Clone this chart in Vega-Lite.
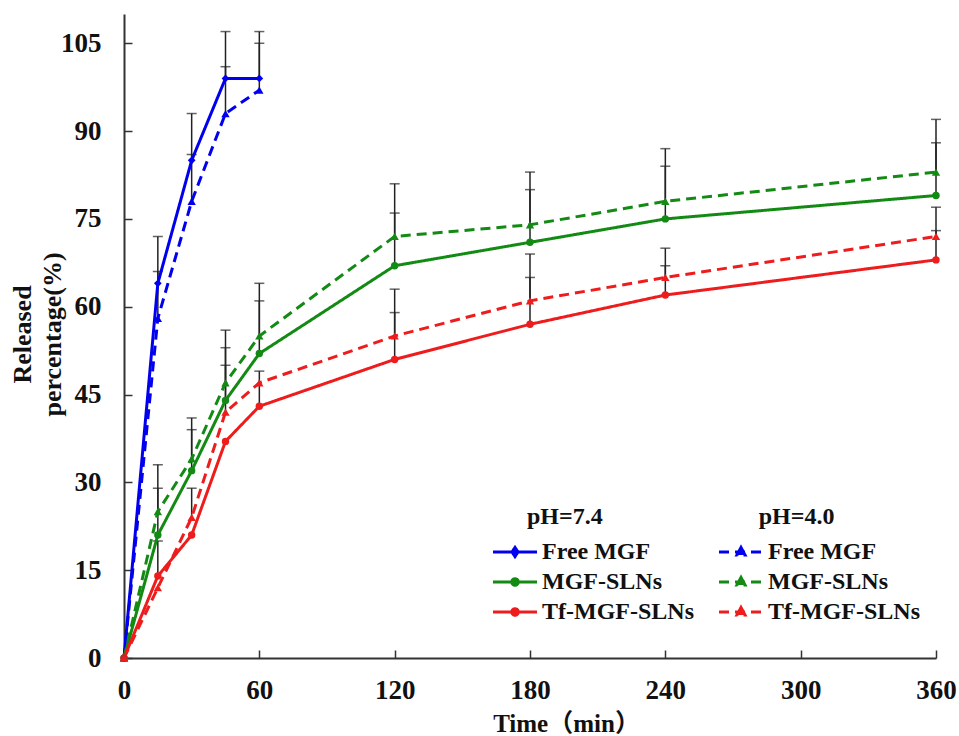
{
  "$schema": "https://vega.github.io/schema/vega-lite/v6.json",
  "width": 812,
  "height": 644,
  "autosize": {"type": "none"},
  "padding": {"left": 124, "top": 14, "right": 23, "bottom": 78},
  "background": "white",
  "config": {
    "view": {"stroke": null},
    "axis": {
      "grid": false,
      "domainColor": "#333333",
      "domainWidth": 2,
      "tickColor": "#333333",
      "tickWidth": 1.5,
      "labelFont": "Liberation Serif",
      "labelFontWeight": "bold",
      "labelFontSize": 27,
      "labelColor": "#111111",
      "titleFont": "Liberation Serif",
      "titleFontWeight": "bold",
      "titleColor": "#111111"
    },
    "legend": {
      "orient": "none",
      "legendX": 379,
      "legendY": 491,
      "columns": 2,
      "columnPadding": 19,
      "rowPadding": 6,
      "padding": 0,
      "titleFont": "Liberation Serif",
      "titleFontWeight": "bold",
      "titleFontSize": 24,
      "titleColor": "#111111",
      "titlePadding": 11,
      "titleLimit": 600,
      "labelFont": "Liberation Serif",
      "labelFontWeight": "bold",
      "labelFontSize": 24,
      "labelColor": "#111111",
      "labelOffset": 15,
      "labelLimit": 300,
      "symbolSize": 100,
      "symbolStrokeWidth": 3,
      "symbolOpacity": 1
    }
  },
  "datasets": {
    "release": [
      {"series": "Free MGF (pH 7.4)", "time": 0, "value": 0},
      {"series": "Free MGF (pH 7.4)", "time": 15, "value": 64, "hi": 72},
      {"series": "Free MGF (pH 7.4)", "time": 30, "value": 85, "hi": 93},
      {"series": "Free MGF (pH 7.4)", "time": 45, "value": 99, "hi": 107},
      {"series": "Free MGF (pH 7.4)", "time": 60, "value": 99, "hi": 107},
      {"series": "Free MGF (pH 4.0)", "time": 0, "value": 0},
      {"series": "Free MGF (pH 4.0)", "time": 15, "value": 58, "hi": 66},
      {"series": "Free MGF (pH 4.0)", "time": 30, "value": 78, "hi": 86},
      {"series": "Free MGF (pH 4.0)", "time": 45, "value": 93, "hi": 101},
      {"series": "Free MGF (pH 4.0)", "time": 60, "value": 97, "hi": 105},
      {"series": "MGF-SLNs (pH 7.4)", "time": 0, "value": 0},
      {"series": "MGF-SLNs (pH 7.4)", "time": 15, "value": 21, "hi": 29},
      {"series": "MGF-SLNs (pH 7.4)", "time": 30, "value": 32, "hi": 39},
      {"series": "MGF-SLNs (pH 7.4)", "time": 45, "value": 44, "hi": 53},
      {"series": "MGF-SLNs (pH 7.4)", "time": 60, "value": 52, "hi": 61},
      {"series": "MGF-SLNs (pH 7.4)", "time": 120, "value": 67, "hi": 76},
      {"series": "MGF-SLNs (pH 7.4)", "time": 180, "value": 71, "hi": 80},
      {"series": "MGF-SLNs (pH 7.4)", "time": 240, "value": 75, "hi": 84},
      {"series": "MGF-SLNs (pH 7.4)", "time": 360, "value": 79, "hi": 88},
      {"series": "MGF-SLNs (pH 4.0)", "time": 0, "value": 0},
      {"series": "MGF-SLNs (pH 4.0)", "time": 15, "value": 25, "hi": 33},
      {"series": "MGF-SLNs (pH 4.0)", "time": 30, "value": 34, "hi": 41},
      {"series": "MGF-SLNs (pH 4.0)", "time": 45, "value": 47, "hi": 56},
      {"series": "MGF-SLNs (pH 4.0)", "time": 60, "value": 55, "hi": 64},
      {"series": "MGF-SLNs (pH 4.0)", "time": 120, "value": 72, "hi": 81},
      {"series": "MGF-SLNs (pH 4.0)", "time": 180, "value": 74, "hi": 83},
      {"series": "MGF-SLNs (pH 4.0)", "time": 240, "value": 78, "hi": 87},
      {"series": "MGF-SLNs (pH 4.0)", "time": 360, "value": 83, "hi": 92},
      {"series": "Tf-MGF-SLNs (pH 7.4)", "time": 0, "value": 0},
      {"series": "Tf-MGF-SLNs (pH 7.4)", "time": 15, "value": 14, "hi": 20},
      {"series": "Tf-MGF-SLNs (pH 7.4)", "time": 30, "value": 21},
      {"series": "Tf-MGF-SLNs (pH 7.4)", "time": 45, "value": 37},
      {"series": "Tf-MGF-SLNs (pH 7.4)", "time": 60, "value": 43, "hi": 49},
      {"series": "Tf-MGF-SLNs (pH 7.4)", "time": 120, "value": 51, "hi": 59},
      {"series": "Tf-MGF-SLNs (pH 7.4)", "time": 180, "value": 57, "hi": 65},
      {"series": "Tf-MGF-SLNs (pH 7.4)", "time": 240, "value": 62, "hi": 67},
      {"series": "Tf-MGF-SLNs (pH 7.4)", "time": 360, "value": 68, "hi": 73},
      {"series": "Tf-MGF-SLNs (pH 4.0)", "time": 0, "value": 0},
      {"series": "Tf-MGF-SLNs (pH 4.0)", "time": 15, "value": 12},
      {"series": "Tf-MGF-SLNs (pH 4.0)", "time": 30, "value": 24, "hi": 29},
      {"series": "Tf-MGF-SLNs (pH 4.0)", "time": 45, "value": 42, "hi": 50},
      {"series": "Tf-MGF-SLNs (pH 4.0)", "time": 60, "value": 47},
      {"series": "Tf-MGF-SLNs (pH 4.0)", "time": 120, "value": 55, "hi": 63},
      {"series": "Tf-MGF-SLNs (pH 4.0)", "time": 180, "value": 61, "hi": 69},
      {"series": "Tf-MGF-SLNs (pH 4.0)", "time": 240, "value": 65, "hi": 70},
      {"series": "Tf-MGF-SLNs (pH 4.0)", "time": 360, "value": 72, "hi": 77}
    ]
  },
  "data": {"name": "release"},
  "encoding": {
    "x": {
      "field": "time",
      "type": "quantitative",
      "scale": {"domain": [0, 360], "nice": false},
      "axis": {
        "values": [0, 60, 120, 180, 240, 300, 360],
        "title": "Time（min）",
        "titleFont": "Liberation Serif, Noto Sans CJK SC",
        "titleFontSize": 25,
        "titleX": 442,
        "titleY": 73,
        "titleBaseline": "alphabetic",
        "titleAlign": "center",
        "tickSize": -8,
        "labelPadding": 27,
        "labelFlush": false
      }
    },
    "y": {
      "field": "value",
      "type": "quantitative",
      "scale": {"domain": [0, 110], "nice": false},
      "axis": {
        "values": [0, 15, 30, 45, 60, 75, 90, 105],
        "title": ["Released", "percentage(%)"],
        "titleFontSize": 26,
        "titleLineHeight": 30,
        "titleAngle": -90,
        "titleX": -89,
        "titleY": 320,
        "titleAlign": "center",
        "titleBaseline": "bottom",
        "tickSize": -8,
        "labelPadding": 31
      }
    }
  },
  "layer": [
    {
      "transform": [{"filter": "isValid(datum.hi)"}],
      "mark": {"type": "rule", "strokeWidth": 1.5, "color": "#222222"},
      "encoding": {"y2": {"field": "hi"}}
    },
    {
      "transform": [{"filter": "isValid(datum.hi)"}],
      "mark": {"type": "tick", "orient": "horizontal", "size": 10, "thickness": 1.5, "color": "#222222"},
      "encoding": {"y": {"field": "hi", "type": "quantitative"}}
    },
    {
      "mark": {"type": "line", "strokeWidth": 3},
      "encoding": {
        "color": {
          "field": "series", "type": "nominal",
          "scale": {
            "domain": ["Free MGF (pH 7.4)", "MGF-SLNs (pH 7.4)", "Tf-MGF-SLNs (pH 7.4)", "Free MGF (pH 4.0)", "MGF-SLNs (pH 4.0)", "Tf-MGF-SLNs (pH 4.0)"],
            "range": ["#0000ee", "#138a13", "#ee1c1c", "#0000ee", "#138a13", "#ee1c1c"]
          }
        },
        "strokeDash": {
          "field": "series", "type": "nominal",
          "scale": {
            "domain": ["Free MGF (pH 7.4)", "MGF-SLNs (pH 7.4)", "Tf-MGF-SLNs (pH 7.4)", "Free MGF (pH 4.0)", "MGF-SLNs (pH 4.0)", "Tf-MGF-SLNs (pH 4.0)"],
            "range": [[1, 0], [1, 0], [1, 0], [10, 6], [10, 6], [10, 6]]
          }
        }
      }
    },
    {
      "transform": [{"filter": "datum.series == 'Free MGF (pH 7.4)'"}],
      "mark": {"type": "point", "shape": "diamond", "filled": true, "size": 60, "opacity": 1},
      "encoding": {"color": {"field": "series", "type": "nominal"}}
    },
    {
      "transform": [{"filter": "datum.series == 'MGF-SLNs (pH 7.4)' || datum.series == 'Tf-MGF-SLNs (pH 7.4)'"}],
      "mark": {"type": "point", "shape": "circle", "filled": true, "size": 55, "opacity": 1},
      "encoding": {"color": {"field": "series", "type": "nominal"}}
    },
    {
      "transform": [{"filter": "indexof(datum.series, 'pH 4.0') >= 0"}],
      "mark": {"type": "point", "shape": "triangle-up", "filled": true, "size": 70, "opacity": 1},
      "encoding": {"color": {"field": "series", "type": "nominal"}}
    },
    {
      "transform": [{"filter": "false"}],
      "mark": {"type": "point", "filled": true, "opacity": 1},
      "encoding": {
        "shape": {
          "field": "series", "type": "nominal",
          "scale": {
            "domain": ["Free MGF (pH 7.4)", "MGF-SLNs (pH 7.4)", "Tf-MGF-SLNs (pH 7.4)", "Free MGF (pH 4.0)", "MGF-SLNs (pH 4.0)", "Tf-MGF-SLNs (pH 4.0)"],
            "range": [
              "M-4.4,0L4.4,0M0,-0.9L0.6,0L0,0.9L-0.6,0Z",
              "M-4.4,0L4.4,0M-0.65,0A0.65,0.65,0,1,0,0.65,0A0.65,0.65,0,1,0,-0.65,0Z",
              "M-4.4,0L4.4,0M-0.65,0A0.65,0.65,0,1,0,0.65,0A0.65,0.65,0,1,0,-0.65,0Z",
              "M-4.4,0L4.4,0M0,-0.9L0.8,0.6L-0.8,0.6Z",
              "M-4.4,0L4.4,0M0,-0.9L0.8,0.6L-0.8,0.6Z",
              "M-4.4,0L4.4,0M0,-0.9L0.8,0.6L-0.8,0.6Z"
            ]
          },
          "legend": {"title": "\u200b\u00a0\u00a0\u00a0\u00a0pH=7.4\u00a0\u00a0\u00a0\u00a0\u00a0\u00a0\u00a0\u00a0\u00a0\u00a0\u00a0\u00a0\u00a0\u00a0\u00a0\u00a0\u00a0\u00a0\u00a0\u00a0\u00a0\u00a0\u00a0\u00a0\u00a0\u00a0pH=4.0", "labelExpr": "split(datum.label, ' (')[0]"}
        },
        "color": {
          "field": "series", "type": "nominal",
          "legend": {"title": "\u200b\u00a0\u00a0\u00a0\u00a0pH=7.4\u00a0\u00a0\u00a0\u00a0\u00a0\u00a0\u00a0\u00a0\u00a0\u00a0\u00a0\u00a0\u00a0\u00a0\u00a0\u00a0\u00a0\u00a0\u00a0\u00a0\u00a0\u00a0\u00a0\u00a0\u00a0\u00a0pH=4.0", "labelExpr": "split(datum.label, ' (')[0]"}
        },
        "stroke": {
          "field": "series", "type": "nominal",
          "scale": {
            "domain": ["Free MGF (pH 7.4)", "MGF-SLNs (pH 7.4)", "Tf-MGF-SLNs (pH 7.4)", "Free MGF (pH 4.0)", "MGF-SLNs (pH 4.0)", "Tf-MGF-SLNs (pH 4.0)"],
            "range": ["#0000ee", "#138a13", "#ee1c1c", "#0000ee", "#138a13", "#ee1c1c"]
          },
          "legend": {"title": "\u200b\u00a0\u00a0\u00a0\u00a0pH=7.4\u00a0\u00a0\u00a0\u00a0\u00a0\u00a0\u00a0\u00a0\u00a0\u00a0\u00a0\u00a0\u00a0\u00a0\u00a0\u00a0\u00a0\u00a0\u00a0\u00a0\u00a0\u00a0\u00a0\u00a0\u00a0\u00a0pH=4.0", "labelExpr": "split(datum.label, ' (')[0]"}
        },
        "strokeDash": {
          "field": "series", "type": "nominal",
          "legend": {"title": "\u200b\u00a0\u00a0\u00a0\u00a0pH=7.4\u00a0\u00a0\u00a0\u00a0\u00a0\u00a0\u00a0\u00a0\u00a0\u00a0\u00a0\u00a0\u00a0\u00a0\u00a0\u00a0\u00a0\u00a0\u00a0\u00a0\u00a0\u00a0\u00a0\u00a0\u00a0\u00a0pH=4.0", "labelExpr": "split(datum.label, ' (')[0]"}
        }
      }
    }
  ]
}
